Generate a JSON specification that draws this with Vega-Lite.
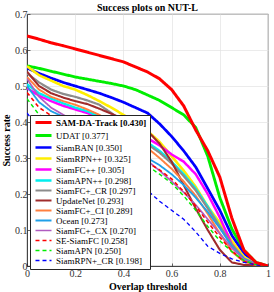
{
  "$schema": "https://vega.github.io/schema/vega-lite/v6.json",
  "autosize": "none",
  "padding": {"left": 27, "top": 14, "right": 6, "bottom": 26},
  "width": 241,
  "height": 252,
  "title": {"text": "Success plots on NUT-L", "font": "Liberation Serif", "fontSize": 10, "fontWeight": "bold", "color": "#000", "offset": -3.5},
  "config": {
    "view": {"stroke": "#262626", "strokeWidth": 0.8},
    "axis": {"labelFont": "Liberation Serif", "labelFontSize": 10, "labelColor": "#333", "titleFont": "Liberation Serif", "titleFontSize": 10, "titleFontWeight": "bold", "titleColor": "#000", "gridColor": "#e3e3e3", "gridWidth": 0.7, "domainColor": "#262626", "domainWidth": 0.8, "tickColor": "#262626", "tickSize": -3, "tickWidth": 0.7}
  },
  "data": {"values": [
{"s":"UDAT [0.377]","t":0,"v":0.556},{"s":"UDAT [0.377]","t":0.05,"v":0.549},{"s":"UDAT [0.377]","t":0.1,"v":0.541},{"s":"UDAT [0.377]","t":0.15,"v":0.533},{"s":"UDAT [0.377]","t":0.2,"v":0.525},{"s":"UDAT [0.377]","t":0.25,"v":0.519},{"s":"UDAT [0.377]","t":0.3,"v":0.513},{"s":"UDAT [0.377]","t":0.35,"v":0.507},{"s":"UDAT [0.377]","t":0.4,"v":0.5},{"s":"UDAT [0.377]","t":0.45,"v":0.49},{"s":"UDAT [0.377]","t":0.5,"v":0.475},{"s":"UDAT [0.377]","t":0.55,"v":0.46},{"s":"UDAT [0.377]","t":0.6,"v":0.44},{"s":"UDAT [0.377]","t":0.65,"v":0.42},{"s":"UDAT [0.377]","t":0.7,"v":0.385},{"s":"UDAT [0.377]","t":0.75,"v":0.305},{"s":"UDAT [0.377]","t":0.8,"v":0.19},{"s":"UDAT [0.377]","t":0.85,"v":0.103},{"s":"UDAT [0.377]","t":0.9,"v":0.044},{"s":"UDAT [0.377]","t":0.95,"v":0.01},{"s":"UDAT [0.377]","t":1,"v":0},
{"s":"SiamBAN [0.350]","t":0,"v":0.55},{"s":"SiamBAN [0.350]","t":0.05,"v":0.535},{"s":"SiamBAN [0.350]","t":0.1,"v":0.522},{"s":"SiamBAN [0.350]","t":0.15,"v":0.51},{"s":"SiamBAN [0.350]","t":0.2,"v":0.5},{"s":"SiamBAN [0.350]","t":0.25,"v":0.49},{"s":"SiamBAN [0.350]","t":0.3,"v":0.48},{"s":"SiamBAN [0.350]","t":0.35,"v":0.468},{"s":"SiamBAN [0.350]","t":0.4,"v":0.455},{"s":"SiamBAN [0.350]","t":0.45,"v":0.44},{"s":"SiamBAN [0.350]","t":0.5,"v":0.425},{"s":"SiamBAN [0.350]","t":0.55,"v":0.395},{"s":"SiamBAN [0.350]","t":0.6,"v":0.36},{"s":"SiamBAN [0.350]","t":0.65,"v":0.32},{"s":"SiamBAN [0.350]","t":0.7,"v":0.275},{"s":"SiamBAN [0.350]","t":0.75,"v":0.215},{"s":"SiamBAN [0.350]","t":0.8,"v":0.155},{"s":"SiamBAN [0.350]","t":0.85,"v":0.085},{"s":"SiamBAN [0.350]","t":0.9,"v":0.035},{"s":"SiamBAN [0.350]","t":0.95,"v":0.008},{"s":"SiamBAN [0.350]","t":1,"v":0},
{"s":"SiamRPN++ [0.325]","t":0,"v":0.555},{"s":"SiamRPN++ [0.325]","t":0.05,"v":0.53},{"s":"SiamRPN++ [0.325]","t":0.1,"v":0.515},{"s":"SiamRPN++ [0.325]","t":0.15,"v":0.5},{"s":"SiamRPN++ [0.325]","t":0.2,"v":0.49},{"s":"SiamRPN++ [0.325]","t":0.25,"v":0.475},{"s":"SiamRPN++ [0.325]","t":0.3,"v":0.458},{"s":"SiamRPN++ [0.325]","t":0.35,"v":0.44},{"s":"SiamRPN++ [0.325]","t":0.4,"v":0.42},{"s":"SiamRPN++ [0.325]","t":0.45,"v":0.4},{"s":"SiamRPN++ [0.325]","t":0.5,"v":0.375},{"s":"SiamRPN++ [0.325]","t":0.55,"v":0.345},{"s":"SiamRPN++ [0.325]","t":0.6,"v":0.305},{"s":"SiamRPN++ [0.325]","t":0.65,"v":0.265},{"s":"SiamRPN++ [0.325]","t":0.7,"v":0.22},{"s":"SiamRPN++ [0.325]","t":0.75,"v":0.165},{"s":"SiamRPN++ [0.325]","t":0.8,"v":0.12},{"s":"SiamRPN++ [0.325]","t":0.85,"v":0.07},{"s":"SiamRPN++ [0.325]","t":0.9,"v":0.025},{"s":"SiamRPN++ [0.325]","t":0.95,"v":0.005},{"s":"SiamRPN++ [0.325]","t":1,"v":0},
{"s":"SiamFC++ [0.305]","t":0,"v":0.494},{"s":"SiamFC++ [0.305]","t":0.05,"v":0.473},{"s":"SiamFC++ [0.305]","t":0.1,"v":0.458},{"s":"SiamFC++ [0.305]","t":0.15,"v":0.445},{"s":"SiamFC++ [0.305]","t":0.2,"v":0.435},{"s":"SiamFC++ [0.305]","t":0.25,"v":0.425},{"s":"SiamFC++ [0.305]","t":0.3,"v":0.412},{"s":"SiamFC++ [0.305]","t":0.35,"v":0.398},{"s":"SiamFC++ [0.305]","t":0.4,"v":0.385},{"s":"SiamFC++ [0.305]","t":0.45,"v":0.37},{"s":"SiamFC++ [0.305]","t":0.5,"v":0.355},{"s":"SiamFC++ [0.305]","t":0.55,"v":0.335},{"s":"SiamFC++ [0.305]","t":0.6,"v":0.31},{"s":"SiamFC++ [0.305]","t":0.65,"v":0.29},{"s":"SiamFC++ [0.305]","t":0.7,"v":0.255},{"s":"SiamFC++ [0.305]","t":0.75,"v":0.2},{"s":"SiamFC++ [0.305]","t":0.8,"v":0.135},{"s":"SiamFC++ [0.305]","t":0.85,"v":0.06},{"s":"SiamFC++ [0.305]","t":0.9,"v":0.02},{"s":"SiamFC++ [0.305]","t":0.95,"v":0.005},{"s":"SiamFC++ [0.305]","t":1,"v":0},
{"s":"SiamAPN++ [0.298]","t":0,"v":0.505},{"s":"SiamAPN++ [0.298]","t":0.05,"v":0.48},{"s":"SiamAPN++ [0.298]","t":0.1,"v":0.465},{"s":"SiamAPN++ [0.298]","t":0.15,"v":0.452},{"s":"SiamAPN++ [0.298]","t":0.2,"v":0.44},{"s":"SiamAPN++ [0.298]","t":0.25,"v":0.43},{"s":"SiamAPN++ [0.298]","t":0.3,"v":0.415},{"s":"SiamAPN++ [0.298]","t":0.35,"v":0.4},{"s":"SiamAPN++ [0.298]","t":0.4,"v":0.385},{"s":"SiamAPN++ [0.298]","t":0.45,"v":0.365},{"s":"SiamAPN++ [0.298]","t":0.5,"v":0.343},{"s":"SiamAPN++ [0.298]","t":0.55,"v":0.32},{"s":"SiamAPN++ [0.298]","t":0.6,"v":0.29},{"s":"SiamAPN++ [0.298]","t":0.65,"v":0.255},{"s":"SiamAPN++ [0.298]","t":0.7,"v":0.215},{"s":"SiamAPN++ [0.298]","t":0.75,"v":0.165},{"s":"SiamAPN++ [0.298]","t":0.8,"v":0.11},{"s":"SiamAPN++ [0.298]","t":0.85,"v":0.055},{"s":"SiamAPN++ [0.298]","t":0.9,"v":0.02},{"s":"SiamAPN++ [0.298]","t":0.95,"v":0.005},{"s":"SiamAPN++ [0.298]","t":1,"v":0},
{"s":"SiamFC+_CR [0.297]","t":0,"v":0.535},{"s":"SiamFC+_CR [0.297]","t":0.05,"v":0.51},{"s":"SiamFC+_CR [0.297]","t":0.1,"v":0.49},{"s":"SiamFC+_CR [0.297]","t":0.15,"v":0.478},{"s":"SiamFC+_CR [0.297]","t":0.2,"v":0.47},{"s":"SiamFC+_CR [0.297]","t":0.25,"v":0.46},{"s":"SiamFC+_CR [0.297]","t":0.3,"v":0.448},{"s":"SiamFC+_CR [0.297]","t":0.35,"v":0.425},{"s":"SiamFC+_CR [0.297]","t":0.4,"v":0.4},{"s":"SiamFC+_CR [0.297]","t":0.45,"v":0.37},{"s":"SiamFC+_CR [0.297]","t":0.5,"v":0.338},{"s":"SiamFC+_CR [0.297]","t":0.55,"v":0.315},{"s":"SiamFC+_CR [0.297]","t":0.6,"v":0.285},{"s":"SiamFC+_CR [0.297]","t":0.65,"v":0.25},{"s":"SiamFC+_CR [0.297]","t":0.7,"v":0.21},{"s":"SiamFC+_CR [0.297]","t":0.75,"v":0.16},{"s":"SiamFC+_CR [0.297]","t":0.8,"v":0.11},{"s":"SiamFC+_CR [0.297]","t":0.85,"v":0.06},{"s":"SiamFC+_CR [0.297]","t":0.9,"v":0.02},{"s":"SiamFC+_CR [0.297]","t":0.95,"v":0.005},{"s":"SiamFC+_CR [0.297]","t":1,"v":0},
{"s":"UpdateNet [0.293]","t":0,"v":0.54},{"s":"UpdateNet [0.293]","t":0.05,"v":0.5},{"s":"UpdateNet [0.293]","t":0.1,"v":0.48},{"s":"UpdateNet [0.293]","t":0.15,"v":0.468},{"s":"UpdateNet [0.293]","t":0.2,"v":0.458},{"s":"UpdateNet [0.293]","t":0.25,"v":0.45},{"s":"UpdateNet [0.293]","t":0.3,"v":0.437},{"s":"UpdateNet [0.293]","t":0.35,"v":0.423},{"s":"UpdateNet [0.293]","t":0.4,"v":0.408},{"s":"UpdateNet [0.293]","t":0.45,"v":0.392},{"s":"UpdateNet [0.293]","t":0.5,"v":0.375},{"s":"UpdateNet [0.293]","t":0.55,"v":0.34},{"s":"UpdateNet [0.293]","t":0.6,"v":0.29},{"s":"UpdateNet [0.293]","t":0.65,"v":0.225},{"s":"UpdateNet [0.293]","t":0.7,"v":0.16},{"s":"UpdateNet [0.293]","t":0.75,"v":0.1},{"s":"UpdateNet [0.293]","t":0.8,"v":0.045},{"s":"UpdateNet [0.293]","t":0.85,"v":0.01},{"s":"UpdateNet [0.293]","t":0.9,"v":0.003},{"s":"UpdateNet [0.293]","t":0.95,"v":0.002},{"s":"UpdateNet [0.293]","t":1,"v":0},
{"s":"SiamFC+_CI [0.289]","t":0,"v":0.525},{"s":"SiamFC+_CI [0.289]","t":0.05,"v":0.49},{"s":"SiamFC+_CI [0.289]","t":0.1,"v":0.47},{"s":"SiamFC+_CI [0.289]","t":0.15,"v":0.458},{"s":"SiamFC+_CI [0.289]","t":0.2,"v":0.448},{"s":"SiamFC+_CI [0.289]","t":0.25,"v":0.435},{"s":"SiamFC+_CI [0.289]","t":0.3,"v":0.42},{"s":"SiamFC+_CI [0.289]","t":0.35,"v":0.4},{"s":"SiamFC+_CI [0.289]","t":0.4,"v":0.38},{"s":"SiamFC+_CI [0.289]","t":0.45,"v":0.355},{"s":"SiamFC+_CI [0.289]","t":0.5,"v":0.328},{"s":"SiamFC+_CI [0.289]","t":0.55,"v":0.3},{"s":"SiamFC+_CI [0.289]","t":0.6,"v":0.27},{"s":"SiamFC+_CI [0.289]","t":0.65,"v":0.235},{"s":"SiamFC+_CI [0.289]","t":0.7,"v":0.195},{"s":"SiamFC+_CI [0.289]","t":0.75,"v":0.145},{"s":"SiamFC+_CI [0.289]","t":0.8,"v":0.09},{"s":"SiamFC+_CI [0.289]","t":0.85,"v":0.04},{"s":"SiamFC+_CI [0.289]","t":0.9,"v":0.012},{"s":"SiamFC+_CI [0.289]","t":0.95,"v":0.003},{"s":"SiamFC+_CI [0.289]","t":1,"v":0},
{"s":"Ocean [0.273]","t":0,"v":0.5},{"s":"Ocean [0.273]","t":0.05,"v":0.455},{"s":"Ocean [0.273]","t":0.1,"v":0.43},{"s":"Ocean [0.273]","t":0.15,"v":0.415},{"s":"Ocean [0.273]","t":0.2,"v":0.402},{"s":"Ocean [0.273]","t":0.25,"v":0.39},{"s":"Ocean [0.273]","t":0.3,"v":0.375},{"s":"Ocean [0.273]","t":0.35,"v":0.36},{"s":"Ocean [0.273]","t":0.4,"v":0.342},{"s":"Ocean [0.273]","t":0.45,"v":0.322},{"s":"Ocean [0.273]","t":0.5,"v":0.3},{"s":"Ocean [0.273]","t":0.55,"v":0.28},{"s":"Ocean [0.273]","t":0.6,"v":0.255},{"s":"Ocean [0.273]","t":0.65,"v":0.225},{"s":"Ocean [0.273]","t":0.7,"v":0.19},{"s":"Ocean [0.273]","t":0.75,"v":0.15},{"s":"Ocean [0.273]","t":0.8,"v":0.105},{"s":"Ocean [0.273]","t":0.85,"v":0.055},{"s":"Ocean [0.273]","t":0.9,"v":0.02},{"s":"Ocean [0.273]","t":0.95,"v":0.005},{"s":"Ocean [0.273]","t":1,"v":0},
{"s":"SiamFC+_CX [0.270]","t":0,"v":0.52},{"s":"SiamFC+_CX [0.270]","t":0.05,"v":0.47},{"s":"SiamFC+_CX [0.270]","t":0.1,"v":0.44},{"s":"SiamFC+_CX [0.270]","t":0.15,"v":0.42},{"s":"SiamFC+_CX [0.270]","t":0.2,"v":0.405},{"s":"SiamFC+_CX [0.270]","t":0.25,"v":0.39},{"s":"SiamFC+_CX [0.270]","t":0.3,"v":0.372},{"s":"SiamFC+_CX [0.270]","t":0.35,"v":0.355},{"s":"SiamFC+_CX [0.270]","t":0.4,"v":0.335},{"s":"SiamFC+_CX [0.270]","t":0.45,"v":0.315},{"s":"SiamFC+_CX [0.270]","t":0.5,"v":0.292},{"s":"SiamFC+_CX [0.270]","t":0.55,"v":0.265},{"s":"SiamFC+_CX [0.270]","t":0.6,"v":0.235},{"s":"SiamFC+_CX [0.270]","t":0.65,"v":0.205},{"s":"SiamFC+_CX [0.270]","t":0.7,"v":0.17},{"s":"SiamFC+_CX [0.270]","t":0.75,"v":0.13},{"s":"SiamFC+_CX [0.270]","t":0.8,"v":0.09},{"s":"SiamFC+_CX [0.270]","t":0.85,"v":0.05},{"s":"SiamFC+_CX [0.270]","t":0.9,"v":0.018},{"s":"SiamFC+_CX [0.270]","t":0.95,"v":0.004},{"s":"SiamFC+_CX [0.270]","t":1,"v":0},
{"s":"SE-SiamFC [0.258]","t":0,"v":0.482},{"s":"SE-SiamFC [0.258]","t":0.05,"v":0.44},{"s":"SE-SiamFC [0.258]","t":0.1,"v":0.418},{"s":"SE-SiamFC [0.258]","t":0.15,"v":0.4},{"s":"SE-SiamFC [0.258]","t":0.2,"v":0.384},{"s":"SE-SiamFC [0.258]","t":0.25,"v":0.368},{"s":"SE-SiamFC [0.258]","t":0.3,"v":0.352},{"s":"SE-SiamFC [0.258]","t":0.35,"v":0.337},{"s":"SE-SiamFC [0.258]","t":0.4,"v":0.322},{"s":"SE-SiamFC [0.258]","t":0.45,"v":0.305},{"s":"SE-SiamFC [0.258]","t":0.5,"v":0.287},{"s":"SE-SiamFC [0.258]","t":0.55,"v":0.267},{"s":"SE-SiamFC [0.258]","t":0.6,"v":0.242},{"s":"SE-SiamFC [0.258]","t":0.65,"v":0.207},{"s":"SE-SiamFC [0.258]","t":0.7,"v":0.167},{"s":"SE-SiamFC [0.258]","t":0.75,"v":0.122},{"s":"SE-SiamFC [0.258]","t":0.8,"v":0.08},{"s":"SE-SiamFC [0.258]","t":0.85,"v":0.042},{"s":"SE-SiamFC [0.258]","t":0.9,"v":0.013},{"s":"SE-SiamFC [0.258]","t":0.95,"v":0.003},{"s":"SE-SiamFC [0.258]","t":1,"v":0},
{"s":"SiamAPN [0.250]","t":0,"v":0.465},{"s":"SiamAPN [0.250]","t":0.05,"v":0.42},{"s":"SiamAPN [0.250]","t":0.1,"v":0.4},{"s":"SiamAPN [0.250]","t":0.15,"v":0.385},{"s":"SiamAPN [0.250]","t":0.2,"v":0.37},{"s":"SiamAPN [0.250]","t":0.25,"v":0.355},{"s":"SiamAPN [0.250]","t":0.3,"v":0.34},{"s":"SiamAPN [0.250]","t":0.35,"v":0.325},{"s":"SiamAPN [0.250]","t":0.4,"v":0.31},{"s":"SiamAPN [0.250]","t":0.45,"v":0.295},{"s":"SiamAPN [0.250]","t":0.5,"v":0.278},{"s":"SiamAPN [0.250]","t":0.55,"v":0.255},{"s":"SiamAPN [0.250]","t":0.6,"v":0.23},{"s":"SiamAPN [0.250]","t":0.65,"v":0.195},{"s":"SiamAPN [0.250]","t":0.7,"v":0.155},{"s":"SiamAPN [0.250]","t":0.75,"v":0.11},{"s":"SiamAPN [0.250]","t":0.8,"v":0.07},{"s":"SiamAPN [0.250]","t":0.85,"v":0.04},{"s":"SiamAPN [0.250]","t":0.9,"v":0.015},{"s":"SiamAPN [0.250]","t":0.95,"v":0.004},{"s":"SiamAPN [0.250]","t":1,"v":0},
{"s":"SiamRPN+_CR [0.198]","t":0,"v":0.425},{"s":"SiamRPN+_CR [0.198]","t":0.05,"v":0.38},{"s":"SiamRPN+_CR [0.198]","t":0.1,"v":0.355},{"s":"SiamRPN+_CR [0.198]","t":0.15,"v":0.335},{"s":"SiamRPN+_CR [0.198]","t":0.2,"v":0.315},{"s":"SiamRPN+_CR [0.198]","t":0.25,"v":0.3},{"s":"SiamRPN+_CR [0.198]","t":0.3,"v":0.28},{"s":"SiamRPN+_CR [0.198]","t":0.35,"v":0.265},{"s":"SiamRPN+_CR [0.198]","t":0.4,"v":0.245},{"s":"SiamRPN+_CR [0.198]","t":0.45,"v":0.228},{"s":"SiamRPN+_CR [0.198]","t":0.5,"v":0.21},{"s":"SiamRPN+_CR [0.198]","t":0.55,"v":0.18},{"s":"SiamRPN+_CR [0.198]","t":0.6,"v":0.155},{"s":"SiamRPN+_CR [0.198]","t":0.65,"v":0.13},{"s":"SiamRPN+_CR [0.198]","t":0.7,"v":0.095},{"s":"SiamRPN+_CR [0.198]","t":0.75,"v":0.055},{"s":"SiamRPN+_CR [0.198]","t":0.8,"v":0.035},{"s":"SiamRPN+_CR [0.198]","t":0.85,"v":0.02},{"s":"SiamRPN+_CR [0.198]","t":0.9,"v":0.01},{"s":"SiamRPN+_CR [0.198]","t":0.95,"v":0.003},{"s":"SiamRPN+_CR [0.198]","t":1,"v":0},
{"s":"SAM-DA-Track [0.430]","t":0,"v":0.639},{"s":"SAM-DA-Track [0.430]","t":0.05,"v":0.63},{"s":"SAM-DA-Track [0.430]","t":0.1,"v":0.62},{"s":"SAM-DA-Track [0.430]","t":0.15,"v":0.612},{"s":"SAM-DA-Track [0.430]","t":0.2,"v":0.603},{"s":"SAM-DA-Track [0.430]","t":0.25,"v":0.594},{"s":"SAM-DA-Track [0.430]","t":0.3,"v":0.585},{"s":"SAM-DA-Track [0.430]","t":0.35,"v":0.576},{"s":"SAM-DA-Track [0.430]","t":0.4,"v":0.567},{"s":"SAM-DA-Track [0.430]","t":0.45,"v":0.553},{"s":"SAM-DA-Track [0.430]","t":0.5,"v":0.539},{"s":"SAM-DA-Track [0.430]","t":0.55,"v":0.52},{"s":"SAM-DA-Track [0.430]","t":0.6,"v":0.49},{"s":"SAM-DA-Track [0.430]","t":0.65,"v":0.445},{"s":"SAM-DA-Track [0.430]","t":0.7,"v":0.378},{"s":"SAM-DA-Track [0.430]","t":0.75,"v":0.32},{"s":"SAM-DA-Track [0.430]","t":0.8,"v":0.247},{"s":"SAM-DA-Track [0.430]","t":0.85,"v":0.133},{"s":"SAM-DA-Track [0.430]","t":0.9,"v":0.044},{"s":"SAM-DA-Track [0.430]","t":0.95,"v":0.01},{"s":"SAM-DA-Track [0.430]","t":1,"v":0}
  ]},
  "mark": {"type": "line", "clip": true},
  "encoding": {
    "x": {"field": "t", "type": "quantitative", "scale": {"domain": [0, 1], "nice": false},
      "axis": {"title": "Overlap threshold", "values": [0, 0.2, 0.4, 0.6, 0.8, 1], "format": "~g", "labelPadding": 5, "titlePadding": 3, "labelFlush": false}},
    "y": {"field": "v", "type": "quantitative", "scale": {"domain": [0, 0.7], "nice": false},
      "axis": {"title": "Success rate", "values": [0, 0.1, 0.2, 0.3, 0.4, 0.5, 0.6, 0.7], "format": "~g", "labelPadding": 3, "titlePadding": 3, "labelFlush": false}},
    "color": {"field": "s", "type": "nominal",
      "scale": {"domain": ["SAM-DA-Track [0.430]","UDAT [0.377]","SiamBAN [0.350]","SiamRPN++ [0.325]","SiamFC++ [0.305]","SiamAPN++ [0.298]","SiamFC+_CR [0.297]","UpdateNet [0.293]","SiamFC+_CI [0.289]","Ocean [0.273]","SiamFC+_CX [0.270]","SE-SiamFC [0.258]","SiamAPN [0.250]","SiamRPN+_CR [0.198]"],
        "range": ["#ff0000","#00ee00","#0000ff","#ffee00","#ff00ff","#00eeee","#8c8c8c","#a02c2c","#ff8040","#20a0e8","#b05cc0","#ff0000","#00ee00","#0000ff"]},
      "legend": {"title": null, "orient": "none", "legendX": 3, "legendY": 101, "fillColor": "white", "strokeColor": "#262626", "padding": 3, "symbolType": "M-0.67,0H4.67", "symbolSize": 36, "symbolStrokeWidth": 1.4, "labelFont": "Liberation Serif", "labelFontSize": 9, "labelColor": "#000", "labelLimit": 200, "rowPadding": 0, "labelOffset": 14,
        "encode": {"labels": {"update": {"fontWeight": {"signal": "datum.label === 'SAM-DA-Track [0.430]' ? 'bold' : 'normal'"}}}, "symbols": {"update": {"strokeWidth": {"signal": "datum.label === 'SAM-DA-Track [0.430]' ? 3 : 1.4"}}}}}},
    "strokeDash": {"field": "s", "type": "nominal",
      "scale": {"domain": ["SAM-DA-Track [0.430]","UDAT [0.377]","SiamBAN [0.350]","SiamRPN++ [0.325]","SiamFC++ [0.305]","SiamAPN++ [0.298]","SiamFC+_CR [0.297]","UpdateNet [0.293]","SiamFC+_CI [0.289]","Ocean [0.273]","SiamFC+_CX [0.270]","SE-SiamFC [0.258]","SiamAPN [0.250]","SiamRPN+_CR [0.198]"],
        "range": [[1,0],[1,0],[1,0],[1,0],[1,0],[1,0],[1,0],[1,0],[1,0],[1,0],[1,0],[4,3],[4,3],[4,3]]},
      "legend": {"title": null, "orient": "none", "legendX": 3, "legendY": 101, "fillColor": "white", "strokeColor": "#262626", "padding": 3, "symbolType": "M-0.67,0H4.67", "symbolSize": 36, "symbolStrokeWidth": 1.4, "labelFont": "Liberation Serif", "labelFontSize": 9, "labelColor": "#000", "labelLimit": 200, "rowPadding": 0, "labelOffset": 14,
        "encode": {"labels": {"update": {"fontWeight": {"signal": "datum.label === 'SAM-DA-Track [0.430]' ? 'bold' : 'normal'"}}}, "symbols": {"update": {"strokeWidth": {"signal": "datum.label === 'SAM-DA-Track [0.430]' ? 3 : 1.4"}}}}}},
    "strokeWidth": {"field": "s", "type": "nominal",
      "scale": {"domain": ["SAM-DA-Track [0.430]","UDAT [0.377]","SiamBAN [0.350]","SiamRPN++ [0.325]","SiamFC++ [0.305]","SiamAPN++ [0.298]","SiamFC+_CR [0.297]","UpdateNet [0.293]","SiamFC+_CI [0.289]","Ocean [0.273]","SiamFC+_CX [0.270]","SE-SiamFC [0.258]","SiamAPN [0.250]","SiamRPN+_CR [0.198]"],
        "range": [3,1.3,1.3,1.3,1.3,1.3,1.3,1.3,1.3,1.3,1.3,1.3,1.3,1.3]},
      "legend": {"title": null, "orient": "none", "legendX": 3, "legendY": 101, "fillColor": "white", "strokeColor": "#262626", "padding": 3, "symbolType": "M-0.67,0H4.67", "symbolSize": 36, "symbolStrokeWidth": 1.4, "labelFont": "Liberation Serif", "labelFontSize": 9, "labelColor": "#000", "labelLimit": 200, "rowPadding": 0, "labelOffset": 14,
        "encode": {"labels": {"update": {"fontWeight": {"signal": "datum.label === 'SAM-DA-Track [0.430]' ? 'bold' : 'normal'"}}}, "symbols": {"update": {"strokeWidth": {"signal": "datum.label === 'SAM-DA-Track [0.430]' ? 3 : 1.4"}}}}}}
  }
}
